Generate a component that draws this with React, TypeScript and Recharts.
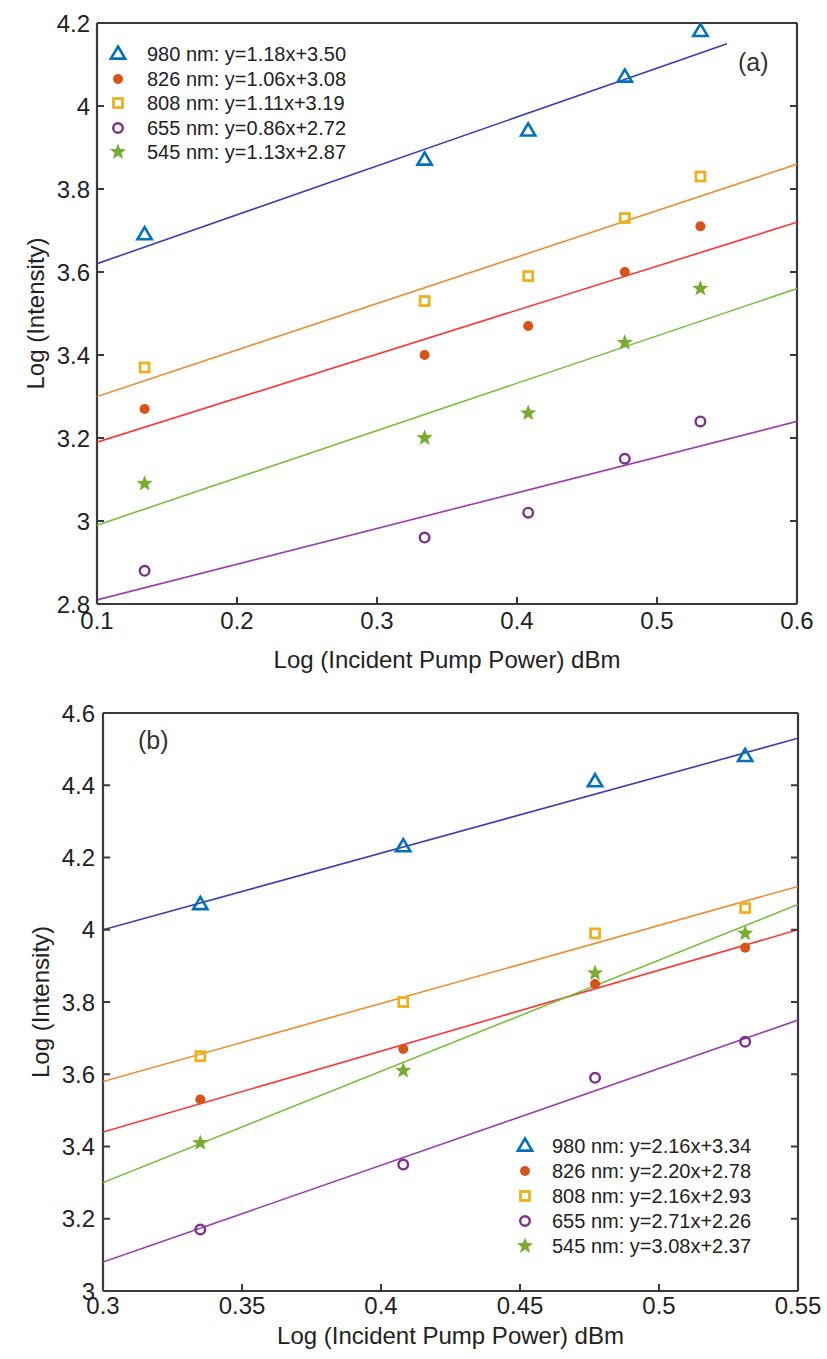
import React from 'react';
import { ComposedChart, Scatter, XAxis, YAxis, Legend } from 'recharts';

// ---------- data: panel (a) ----------
const xA = [0.134, 0.334, 0.408, 0.477, 0.531];
const a980 = [3.69, 3.87, 3.94, 4.07, 4.18];
const a826 = [3.27, 3.40, 3.47, 3.60, 3.71];
const a808 = [3.37, 3.53, 3.59, 3.73, 3.83];
const a655 = [2.88, 2.96, 3.02, 3.15, 3.24];
const a545 = [3.09, 3.20, 3.26, 3.43, 3.56];

const fitXA980 = [0.1, 0.55];
const fitXA = [0.1, 0.6];
const fitA980 = [3.62, 4.15];
const fitA826 = [3.19, 3.72];
const fitA808 = [3.30, 3.86];
const fitA655 = [2.81, 3.24];
const fitA545 = [2.99, 3.56];

const legendA = [
  '980 nm: y=1.18x+3.50',
  '826 nm: y=1.06x+3.08',
  '808 nm: y=1.11x+3.19',
  '655 nm: y=0.86x+2.72',
  '545 nm: y=1.13x+2.87',
];
const xTicksA = [0.1, 0.2, 0.3, 0.4, 0.5, 0.6];
const yTicksA = [2.8, 3, 3.2, 3.4, 3.6, 3.8, 4, 4.2];

// ---------- data: panel (b) ----------
const xB = [0.335, 0.408, 0.477, 0.531];
const b980 = [4.07, 4.23, 4.41, 4.48];
const b826 = [3.53, 3.67, 3.85, 3.95];
const b808 = [3.65, 3.80, 3.99, 4.06];
const b655 = [3.17, 3.35, 3.59, 3.69];
const b545 = [3.41, 3.61, 3.88, 3.99];

const fitXB = [0.3, 0.55];
const fitB980 = [4.00, 4.53];
const fitB826 = [3.44, 4.00];
const fitB808 = [3.58, 4.12];
const fitB655 = [3.08, 3.75];
const fitB545 = [3.30, 4.07];

const legendB = [
  '980 nm: y=2.16x+3.34',
  '826 nm: y=2.20x+2.78',
  '808 nm: y=2.16x+2.93',
  '655 nm: y=2.71x+2.26',
  '545 nm: y=3.08x+2.37',
];
const xTicksB = [0.3, 0.35, 0.4, 0.45, 0.5, 0.55];
const yTicksB = [3, 3.2, 3.4, 3.6, 3.8, 4, 4.2, 4.4, 4.6];

const xTitle = 'Log (Incident Pump Power) dBm';
const yTitle = 'Log (Intensity)';

// ---------- styles ----------
const FONT = '"Liberation Sans", Arial, Helvetica, sans-serif';
const AXIS = '#3a3a3a';
const TEXT = '#222';
const TICK_LEN = 7;
const TICK_FONT = 24;

const kinds = ['tri', 'dot', 'sq', 'ring', 'star'];
const markerColors = ['#0072BD', '#D95319', '#EDB120', '#7E2F8E', '#77AC30'];
// order: 980, 826, 808, 655, 545
const fitColors = ['#3C3CB4', '#FF3535', '#F08C30', '#9A40B0', '#7CBF3F'];

const pts = (xs: number[], ys: number[]) => xs.map((x, i) => ({ x, y: ys[i] }));

function drawMarker(kind: string, color: string, cx: number, cy: number) {
  if (kind === 'tri') {
    const s = 7.5;
    return (
      <path
        d={`M${cx},${cy - s} L${cx + s * 0.95},${cy + s * 0.62} L${cx - s * 0.95},${cy + s * 0.62} Z`}
        fill="none"
        stroke={color}
        strokeWidth={2.6}
      />
    );
  }
  if (kind === 'dot') return <circle cx={cx} cy={cy} r={5} fill={color} />;
  if (kind === 'sq')
    return <rect x={cx - 4.5} y={cy - 4.5} width={9} height={9} fill="none" stroke={color} strokeWidth={2.8} />;
  if (kind === 'ring') return <circle cx={cx} cy={cy} r={4.8} fill="none" stroke={color} strokeWidth={2.4} />;
  const R = 8.5;
  const r = 3.6;
  let d = '';
  for (let i = 0; i < 10; i++) {
    const rad = i % 2 === 0 ? R : r;
    const ang = -Math.PI / 2 + (i * Math.PI) / 5;
    d += `${i === 0 ? 'M' : 'L'}${cx + rad * Math.cos(ang)},${cy + rad * Math.sin(ang)} `;
  }
  return <path d={d + 'Z'} fill={color} />;
}

const markerShape = (kind: string, color: string) => (props: any) => {
  const { cx, cy } = props;
  if (cx == null || cy == null) return <g />;
  return drawMarker(kind, color, cx, cy);
};
const noShape = () => <g />;

// custom tick renderers: inward tick marks (MATLAB style) + labels
const bottomTick = (m: number) => (props: any) => {
  const { x, y, payload } = props;
  const ay = y - m;
  return (
    <g>
      <line x1={x} x2={x} y1={ay} y2={ay - TICK_LEN} stroke={AXIS} strokeWidth={2} />
      <text x={x} y={y} dy="0.75em" textAnchor="middle" fill={TEXT} fontSize={TICK_FONT} fontFamily={FONT}>
        {String(payload.value)}
      </text>
    </g>
  );
};
const leftTick = (m: number) => (props: any) => {
  const { x, y, payload } = props;
  const ax = x + m;
  return (
    <g>
      <line x1={ax} x2={ax + TICK_LEN} y1={y} y2={y} stroke={AXIS} strokeWidth={2} />
      <text x={x} y={y} dy="0.36em" textAnchor="end" fill={TEXT} fontSize={TICK_FONT} fontFamily={FONT}>
        {String(payload.value)}
      </text>
    </g>
  );
};
const topTick = (props: any) => {
  const { x, y } = props;
  return <line x1={x} x2={x} y1={y} y2={y + TICK_LEN} stroke={AXIS} strokeWidth={2} />;
};
const rightTick = (props: any) => {
  const { x, y } = props;
  return <line x1={x - TICK_LEN} x2={x} y1={y} y2={y} stroke={AXIS} strokeWidth={2} />;
};

function LegendBox({ labels, rowH, gap }: { labels: string[]; rowH: number; gap: number }) {
  return (
    <div style={{ fontFamily: FONT, fontSize: 20, color: TEXT }}>
      {labels.map((t, i) => (
        <div key={t} style={{ display: 'flex', alignItems: 'center', height: rowH, whiteSpace: 'nowrap' }}>
          <svg width={24} height={24} style={{ display: 'block' }}>
            {drawMarker(kinds[i], markerColors[i], 12, 12)}
          </svg>
          <span style={{ marginLeft: gap, lineHeight: 1 }}>{t}</span>
        </div>
      ))}
    </div>
  );
}

const titleStyle = { fill: TEXT, fontSize: 24, fontFamily: FONT };
const axisLineStyle = { stroke: AXIS, strokeWidth: 2.2 };

function Panel(props: {
  width: number;
  height: number;
  margin: any;
  yWidth: number;
  xHeight: number;
  xDomain: number[];
  yDomain: number[];
  xTicks: number[];
  yTicks: number[];
  xs: number[];
  series: number[][];
  fitXs: number[][];
  fits: number[][];
  legend: string[];
  legendPos: { left: number; top: number };
  legendRow: number;
  legendGap: number;
  xTickMargin: number;
  yTickMargin: number;
  xTitleOffset: number;
  yTitleOffset: number;
}) {
  const p = props;
  return (
    <ComposedChart width={p.width} height={p.height} margin={p.margin}>
      <XAxis
        xAxisId="b"
        dataKey="x"
        type="number"
        domain={p.xDomain}
        ticks={p.xTicks}
        interval={0}
        allowDataOverflow
        height={p.xHeight}
        tickSize={0}
        tickMargin={p.xTickMargin}
        tick={bottomTick(p.xTickMargin)}
        axisLine={axisLineStyle}
        tickLine={false}
        label={{ value: xTitle, position: 'insideBottom', offset: p.xTitleOffset, style: titleStyle }}
      />
      <XAxis
        xAxisId="t"
        orientation="top"
        type="number"
        domain={p.xDomain}
        ticks={p.xTicks}
        interval={0}
        allowDataOverflow
        height={1}
        tickSize={0}
        tickMargin={0}
        tick={topTick}
        axisLine={axisLineStyle}
        tickLine={false}
      />
      <YAxis
        yAxisId="l"
        dataKey="y"
        type="number"
        domain={p.yDomain}
        ticks={p.yTicks}
        interval={0}
        allowDataOverflow
        width={p.yWidth}
        tickSize={0}
        tickMargin={p.yTickMargin}
        tick={leftTick(p.yTickMargin)}
        axisLine={axisLineStyle}
        tickLine={false}
        label={{
          value: yTitle,
          angle: -90,
          position: 'insideLeft',
          offset: p.yTitleOffset,
          style: { ...titleStyle, textAnchor: 'middle' },
        }}
      />
      <YAxis
        yAxisId="r"
        orientation="right"
        type="number"
        domain={p.yDomain}
        ticks={p.yTicks}
        interval={0}
        allowDataOverflow
        width={1}
        tickSize={0}
        tickMargin={0}
        tick={rightTick}
        axisLine={axisLineStyle}
        tickLine={false}
      />
      {p.fits.map((f, i) => (
        <Scatter
          key={'fit' + i}
          xAxisId="b"
          yAxisId="l"
          data={pts(p.fitXs[i], f)}
          line={{ stroke: fitColors[i], strokeWidth: 1.6 }}
          lineType="joint"
          shape={noShape}
          isAnimationActive={false}
          legendType="none"
        />
      ))}
      {p.series.map((s, i) => (
        <Scatter
          key={'pts' + i}
          name={p.legend[i]}
          xAxisId="b"
          yAxisId="l"
          data={pts(p.xs, s)}
          shape={markerShape(kinds[i], markerColors[i])}
          fill={markerColors[i]}
          isAnimationActive={false}
        />
      ))}
      <Legend
        layout="vertical"
        align="center"
        verticalAlign="middle"
        wrapperStyle={{ left: p.legendPos.left, top: p.legendPos.top, width: 'auto', height: 'auto' }}
        content={() => <LegendBox labels={p.legend} rowH={p.legendRow} gap={p.legendGap} />}
      />
    </ComposedChart>
  );
}

export default function App() {
  return (
    <div style={{ position: 'absolute', left: 0, top: 0, width: 827, height: 1359, background: '#fff', fontFamily: FONT }}>
      <div style={{ position: 'absolute', left: 0, top: 0 }}>
        <Panel
          width={827}
          height={690}
          margin={{ top: 22, right: 29, bottom: 16, left: 0 }}
          yWidth={97}
          xHeight={70}
          xDomain={[0.1, 0.6]}
          yDomain={[2.8, 4.2]}
          xTicks={xTicksA}
          yTicks={yTicksA}
          xs={xA}
          series={[a980, a826, a808, a655, a545]}
          fitXs={[fitXA980, fitXA, fitXA, fitXA, fitXA]}
          fits={[fitA980, fitA826, fitA808, fitA655, fitA545]}
          legend={legendA}
          legendPos={{ left: 106, top: 42 }}
          legendRow={24.5}
          legendGap={17}
          xTickMargin={7}
          yTickMargin={7}
          xTitleOffset={6}
          yTitleOffset={35}
        />
        <div style={{ position: 'absolute', left: 738, top: 48, fontSize: 25, color: '#333', fontFamily: FONT }}>(a)</div>
      </div>
      <div style={{ position: 'absolute', left: 0, top: 690 }}>
        <Panel
          width={827}
          height={669}
          margin={{ top: 22, right: 28, bottom: 8, left: 0 }}
          yWidth={103}
          xHeight={60}
          xDomain={[0.3, 0.55]}
          yDomain={[3, 4.6]}
          xTicks={xTicksB}
          yTicks={yTicksB}
          xs={xB}
          series={[b980, b826, b808, b655, b545]}
          fitXs={[fitXB, fitXB, fitXB, fitXB, fitXB]}
          fits={[fitB980, fitB826, fitB808, fitB655, fitB545]}
          legend={legendB}
          legendPos={{ left: 513, top: 443 }}
          legendRow={25}
          legendGap={15}
          xTickMargin={5}
          yTickMargin={8}
          xTitleOffset={7}
          yTitleOffset={40}
        />
        <div style={{ position: 'absolute', left: 138, top: 36, fontSize: 25, color: '#333', fontFamily: FONT }}>(b)</div>
      </div>
    </div>
  );
}
